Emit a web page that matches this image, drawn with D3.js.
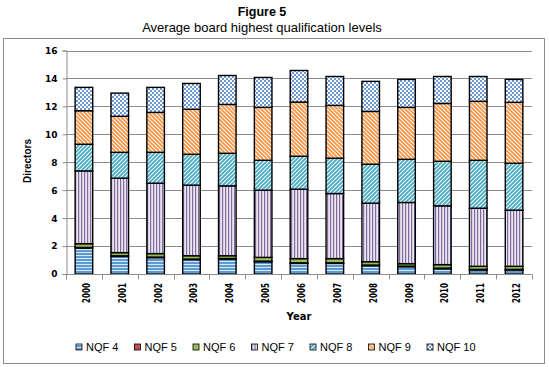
<!DOCTYPE html>
<html>
<head>
<meta charset="utf-8">
<script src="https://cdn.jsdelivr.net/npm/d3@7"></script>
<style>
  body { margin: 0; background: #fff; }
  svg { display: block; }
</style>
</head>
<body>
<div id="chart"></div>
<script>
/* Figure 5 - average board highest qualification levels, stacked bars */

const years = ["2000", "2001", "2002", "2003", "2004", "2005", "2006",
               "2007", "2008", "2009", "2010", "2011", "2012"];
const keys = ["NQF 4", "NQF 5", "NQF 6", "NQF 7", "NQF 8", "NQF 9", "NQF 10"];

const nqf4  = [1.86, 1.26, 1.17, 1.03, 1.07, 0.88, 0.76, 0.76, 0.60, 0.52, 0.38, 0.29, 0.29];
const nqf5  = [0.04, 0.04, 0.04, 0.04, 0.04, 0.04, 0.04, 0.04, 0.04, 0.04, 0.04, 0.04, 0.04];
const nqf6  = [0.27, 0.23, 0.25, 0.24, 0.20, 0.27, 0.30, 0.30, 0.24, 0.18, 0.25, 0.22, 0.22];
const nqf7  = [5.21, 5.33, 5.04, 5.05, 5.00, 4.81, 4.97, 4.66, 4.19, 4.38, 4.21, 4.16, 4.02];
const nqf8  = [1.91, 1.85, 2.21, 2.21, 2.33, 2.14, 2.36, 2.53, 2.79, 3.09, 3.19, 3.43, 3.36];
const nqf9  = [2.40, 2.58, 2.86, 3.22, 3.50, 3.79, 3.88, 3.78, 3.78, 3.72, 4.14, 4.22, 4.36];
const nqf10 = [1.67, 1.66, 1.79, 1.85, 2.07, 2.14, 2.26, 2.07, 2.15, 2.00, 1.93, 1.78, 1.64];

const yTicks = [0, 2, 4, 6, 8, 10, 12, 14, 16];

const series = [nqf4, nqf5, nqf6, nqf7, nqf8, nqf9, nqf10];
const data = years.map((yr, i) => {
    const row = { year: yr };
    keys.forEach((k, j) => row[k] = series[j][i]);
    return row;
});

const width = 549, height = 367;
const margin = { top: 50.5, right: 17, bottom: 93, left: 66 };

const svg = d3.select("#chart").append("svg")
    .attr("width", width)
    .attr("height", height);

// patterns (Excel-like fills)
const defs = svg.append("defs");

function pattern(id, w, h, draw) {
    const p = defs.append("pattern")
        .attr("id", id)
        .attr("patternUnits", "userSpaceOnUse")
        .attr("width", w)
        .attr("height", h);
    draw(p);
}

pattern("p4", 4, 3, p => {
    p.append("rect").attr("width", 4).attr("height", 3).attr("fill", "#5b9bd5");
    p.append("rect").attr("y", 0).attr("width", 4).attr("height", 1).attr("fill", "#dbe9f6");
});
pattern("p7", 3, 4, p => {
    p.append("rect").attr("width", 3).attr("height", 4).attr("fill", "#ece8f1");
    p.append("rect").attr("width", 1.2).attr("height", 4).attr("fill", "#7f6a9f");
});
pattern("p8", 4, 4, p => {
    p.append("rect").attr("width", 4).attr("height", 4).attr("fill", "#ffffff");
    p.append("path").attr("d", "M-1,1 L1,-1 M0,4 L4,0 M3,5 L5,3")
        .attr("stroke", "#4bacc6").attr("stroke-width", 1.9);
});
pattern("p9", 4, 4, p => {
    p.append("rect").attr("width", 4).attr("height", 4).attr("fill", "#ffffff");
    p.append("path").attr("d", "M-1,3 L1,5 M0,0 L4,4 M3,-1 L5,1")
        .attr("stroke", "#f79646").attr("stroke-width", 1.9);
});
pattern("p10", 4, 4, p => {
    p.append("rect").attr("width", 4).attr("height", 4).attr("fill", "#ffffff");
    p.append("rect").attr("width", 2).attr("height", 2).attr("fill", "#6d97cf");
    p.append("rect").attr("x", 2).attr("y", 2).attr("width", 2).attr("height", 2).attr("fill", "#6d97cf");
});

const fills = ["url(#p4)", "#c0504d", "#9bbb59", "url(#p7)", "url(#p8)", "url(#p9)", "url(#p10)"];
const color = d3.scaleOrdinal().domain(keys).range(fills);

// outer frame
svg.append("rect")
    .attr("x", 3.5).attr("y", 38.5)
    .attr("width", 541).attr("height", 325)
    .attr("fill", "none")
    .attr("stroke", "#8c8c8c");

// titles
svg.append("text")
    .attr("x", 262).attr("y", 16)
    .attr("text-anchor", "middle")
    .style("font-family", "Liberation Sans, Arial, sans-serif")
    .style("font-weight", "bold")
    .style("font-size", "12.5px")
    .text("Figure 5");

svg.append("text")
    .attr("x", 262).attr("y", 32)
    .attr("text-anchor", "middle")
    .style("font-family", "Liberation Sans, Arial, sans-serif")
    .style("font-size", "13px")
    .text("Average board highest qualification levels");

let x = d3.scaleBand()
    .domain(years)
    .range([margin.left, width - margin.right])
    .paddingInner(0.51)
    .paddingOuter(0.255);

let y = d3.scaleLinear()
    .domain([0, 16])
    .range([height - margin.bottom, margin.top]);

// gridlines
svg.append("g")
    .selectAll("line")
    .data(yTicks.slice(1))
    .join("line")
    .attr("x1", margin.left).attr("x2", width - margin.right)
    .attr("y1", d => Math.round(y(d)) + 0.5).attr("y2", d => Math.round(y(d)) + 0.5)
    .attr("stroke", "#8c8c8c");

// y axis
const yAxis = svg.append("g")
    .attr("transform", `translate(${margin.left + 0.5},0)`)
    .call(d3.axisLeft(y).tickValues(yTicks).tickSize(4).tickPadding(5));
yAxis.select(".domain").attr("stroke", "#8c8c8c");
yAxis.selectAll(".tick line").attr("stroke", "#8c8c8c");
yAxis.selectAll(".tick text")
    .style("font-family", "DejaVu Sans, Verdana, sans-serif")
    .style("font-weight", "bold")
    .style("font-size", "9px")
    .attr("fill", "#000");

svg.append("text")
    .attr("transform", `translate(31,161) rotate(-90)`)
    .attr("text-anchor", "middle")
    .style("font-family", "Liberation Sans, Arial, sans-serif")
    .style("font-weight", "bold")
    .style("font-size", "10px")
    .text("Directors");

// stacked bars
const stacked = d3.stack().keys(keys)(data);

svg.append("g")
    .selectAll("g")
    .data(stacked)
    .join("g")
    .attr("fill", d => color(d.key))
    .selectAll("rect")
    .data(d => d)
    .join("rect")
    .attr("x", d => x(d.data.year))
    .attr("width", x.bandwidth())
    .attr("y", d => y(d[1]))
    .attr("height", d => y(d[0]) - y(d[1]))
    .attr("stroke", "#000")
    .attr("stroke-width", 1.4);

// x axis: line and ticks at category boundaries
const step = x.step();
const x0 = margin.left;
const base = Math.round(y(0)) + 0.5;
svg.append("line")
    .attr("x1", x0).attr("x2", width - margin.right)
    .attr("y1", base).attr("y2", base)
    .attr("stroke", "#8c8c8c");

svg.append("g")
    .selectAll("line")
    .data(d3.range(years.length + 1))
    .join("line")
    .attr("x1", i => Math.round(x0 + i * step) + 0.5)
    .attr("x2", i => Math.round(x0 + i * step) + 0.5)
    .attr("y1", base).attr("y2", base + 5)
    .attr("stroke", "#8c8c8c");

svg.append("g")
    .selectAll("text")
    .data(years)
    .join("text")
    .attr("transform", d => `translate(${x(d) + x.bandwidth() / 2 + 6},283) rotate(-90)`)
    .attr("text-anchor", "end")
    .attr("textLength", 20)
    .attr("lengthAdjust", "spacingAndGlyphs")
    .style("font-family", "DejaVu Sans, Verdana, sans-serif")
    .style("font-weight", "bold")
    .style("font-size", "10.5px")
    .text(d => d);

svg.append("text")
    .attr("x", 299).attr("y", 320)
    .attr("text-anchor", "middle")
    .style("font-family", "DejaVu Sans, Verdana, sans-serif")
    .style("font-weight", "bold")
    .style("font-size", "10px")
    .text("Year");

// legend
const legend = svg.append("g")
    .selectAll("g")
    .data(keys)
    .join("g")
    .attr("transform", (d, i) => `translate(${76 + i * 58.5},344)`);

legend.append("rect")
    .attr("width", 6).attr("height", 6)
    .attr("fill", d => color(d))
    .attr("stroke", "#000")
    .attr("stroke-width", 0.8);

legend.append("text")
    .attr("x", 10).attr("y", 6.5)
    .style("font-family", "Liberation Sans, Arial, sans-serif")
    .style("font-size", "11px")
    .text(d => d);
</script>
</body>
</html>
